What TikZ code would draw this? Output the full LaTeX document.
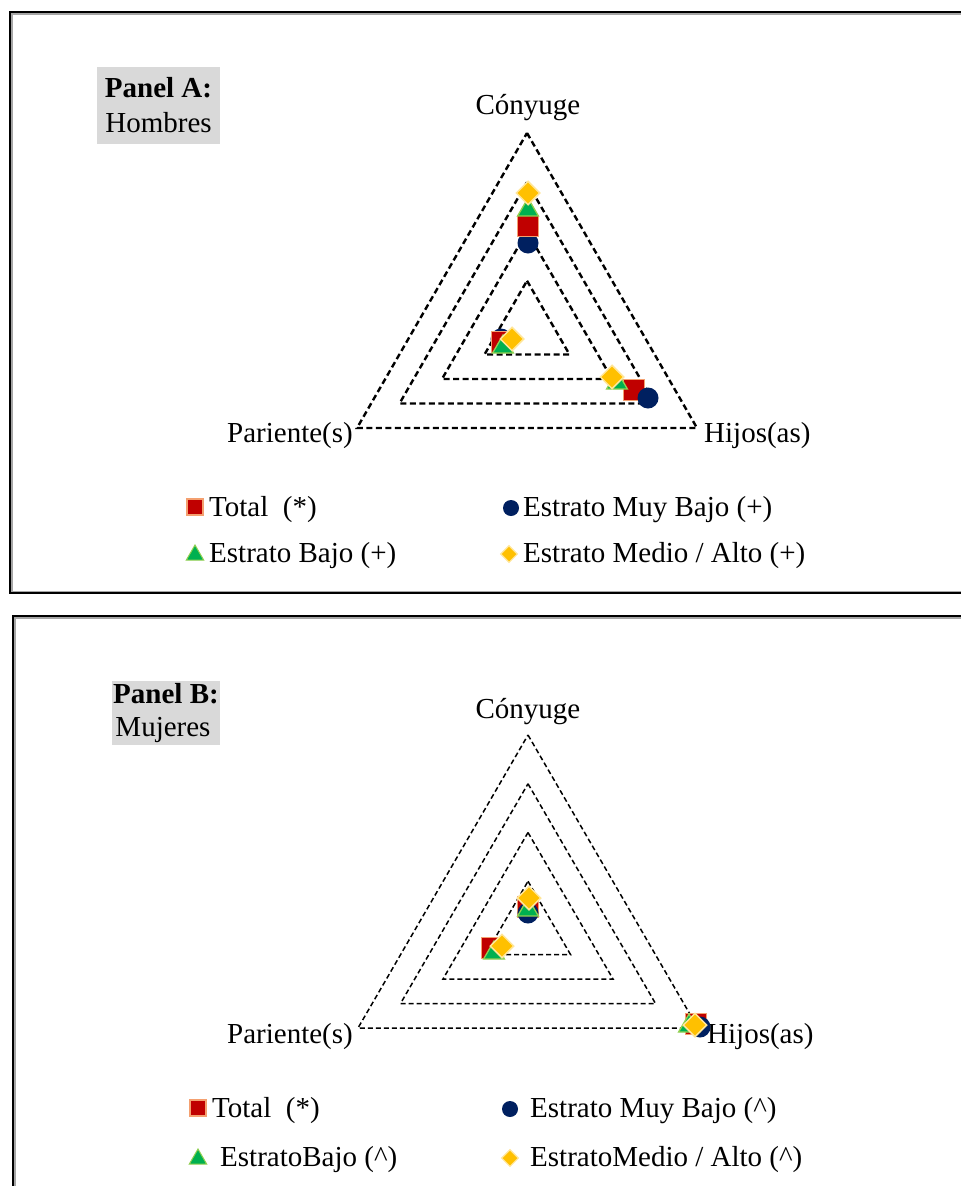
\documentclass[tikz,border=0pt]{standalone}
\usepackage{fontspec}
\setmainfont{Liberation Serif}
\usetikzlibrary{shapes.geometric}
\definecolor{sqred}{HTML}{C00000}
\definecolor{sqedge}{HTML}{F4A070}
\definecolor{navy}{HTML}{002060}
\definecolor{grn}{HTML}{00B050}
\definecolor{grnedge}{HTML}{92D050}
\definecolor{gold}{HTML}{FFC000}
\definecolor{goldedge}{HTML}{FFE699}
\definecolor{tagfill}{HTML}{D9D9D9}
\tikzset{
  frame/.style={draw=black, line width=1.6pt},
  frameshade/.style={draw=black!35, line width=1.4pt},
  ringA/.style={draw=black, line width=2.4pt, dash pattern=on 6pt off 3.5pt},
  ringB/.style={draw=black, line width=1.5pt, dash pattern=on 5pt off 3pt},
  tag/.style={fill=tagfill, align=center, inner sep=0pt},
  axis/.style={inner sep=0pt},
  msq/.style={rectangle, fill=sqred, draw=sqedge, line width=1.5pt, minimum size=21pt, inner sep=0pt},
  mci/.style={circle, fill=navy, minimum size=21pt, inner sep=0pt},
  mtr/.style={regular polygon, regular polygon sides=3, fill=grn, draw=grnedge, line width=1.3pt, minimum size=24pt, inner sep=0pt},
  mdi/.style={diamond, aspect=1, fill=gold, draw=goldedge, line width=1.5pt, minimum size=24pt, inner sep=0pt},
  lsq/.style={msq, minimum size=16pt, line width=1.2pt},
  lci/.style={mci, minimum size=16pt},
  ltr/.style={mtr, minimum size=20pt, line width=1pt},
  ldi/.style={mdi, minimum size=17pt, line width=1.1pt},
  ltxt/.style={anchor=west, inner sep=0pt},
}
\begin{document}
\begin{tikzpicture}[x=1pt, y=-1pt, font=\fontsize{29}{36}\selectfont]
\useasboundingbox (0,0) rectangle (961,1186);
\fill[white] (0,0) rectangle (961,1186);

% ---------------- Panel A: Hombres ----------------
\draw[frameshade] (11.8,13.8) rectangle (995,591.2);
\draw[frame] (10,12) rectangle (995,593);
\node[tag, minimum width=123pt, minimum height=77pt] (tagA) at (158.5,105.5)
  {\textbf{Panel A:}\\[-1pt]Hombres};

\begin{scope}[shift={(527,330)}]
  \foreach \s in {1,0.75,0.5,0.25}
    \draw[ringA] (0,-197*\s) -- (170*\s,98*\s) -- (-170*\s,98*\s) -- cycle;
\end{scope}
\node[axis] (conyA) at (528,108) {Cónyuge};
\node[axis, anchor=east] (parA) at (353,436) {Pariente(s)};
\node[axis, anchor=west] (hijA) at (704,436) {Hijos(as)};

% Cónyuge axis
\node[mci] (a-c-mb) at (528,243) {};
\node[msq] (a-c-t) at (528,226) {};
\node[mtr] (a-c-b) at (528,210) {};
\node[mdi] (a-c-ma) at (528,193) {};
% Pariente(s) axis
\node[mci] (a-p-mb) at (501,339) {};
\node[msq] (a-p-t) at (502,342) {};
\node[mtr] (a-p-b) at (503,347) {};
\node[mdi] (a-p-ma) at (512,339) {};
% Hijos(as) axis
\node[msq] (a-h-t) at (634,390) {};
\node[mci] (a-h-mb) at (648,398) {};
\node[mtr] (a-h-b) at (617,383) {};
\node[mdi] (a-h-ma) at (612,377) {};

% Legend
\node[lsq] (la1) at (195,507) {};
\node[ltxt] (la1t) at (209,510) {Total\ \ (*)};
\node[lci] (la2) at (511,508) {};
\node[ltxt] (la2t) at (523,510) {Estrato Muy Bajo (+)};
\node[ltr] (la3) at (195,555) {};
\node[ltxt] (la3t) at (209,556) {Estrato Bajo (+)};
\node[ldi] (la4) at (509,554) {};
\node[ltxt] (la4t) at (523,556) {Estrato Medio / Alto (+)};

% ---------------- Panel B: Mujeres ----------------
\draw[frameshade] (14.8,617.8) rectangle (995,1200);
\draw[frame] (13,616) rectangle (995,1200);
\node[tag, minimum width=108pt, minimum height=64pt] (tagB) at (166,713)
  {\textbf{Panel B:}\\[-3pt]Mujeres\hspace*{6pt}};

\begin{scope}[shift={(528,930)}]
  \foreach \s in {1,0.75,0.5,0.25}
    \draw[ringB] (0,-195*\s) -- (170*\s,98*\s) -- (-170*\s,98*\s) -- cycle;
\end{scope}
\node[axis] (conyB) at (528,712) {Cónyuge};
\node[axis, anchor=east] (parB) at (353,1037) {Pariente(s)};
\node[axis, anchor=west] (hijB) at (707,1037) {Hijos(as)};

% Cónyuge axis
\node[msq] (b-c-t) at (528,907) {};
\node[mci] (b-c-mb) at (528,913) {};
\node[mtr] (b-c-b) at (528,910) {};
\node[mdi] (b-c-ma) at (529,898) {};
% Pariente(s) axis
\node[mci] (b-p-mb) at (492,948) {};
\node[msq] (b-p-t) at (492,948) {};
\node[mtr] (b-p-b) at (494,953) {};
\node[mdi] (b-p-ma) at (502,946) {};
% Hijos(as) axis
\node[msq] (b-h-t) at (696,1024) {};
\node[mci] (b-h-mb) at (700,1027) {};
\node[mtr] (b-h-b) at (689,1026) {};
\node[mdi] (b-h-ma) at (695,1025) {};

% Legend
\node[lsq] (lb1) at (198,1108) {};
\node[ltxt] (lb1t) at (212,1111) {Total\ \ (*)};
\node[lci] (lb2) at (510,1109) {};
\node[ltxt] (lb2t) at (530,1111) {Estrato Muy Bajo (\^{})};
\node[ltr] (lb3) at (198,1159) {};
\node[ltxt] (lb3t) at (220,1160) {EstratoBajo (\^{})};
\node[ldi] (lb4) at (510,1158) {};
\node[ltxt] (lb4t) at (530,1160) {EstratoMedio / Alto (\^{})};
\end{tikzpicture}
\end{document}
